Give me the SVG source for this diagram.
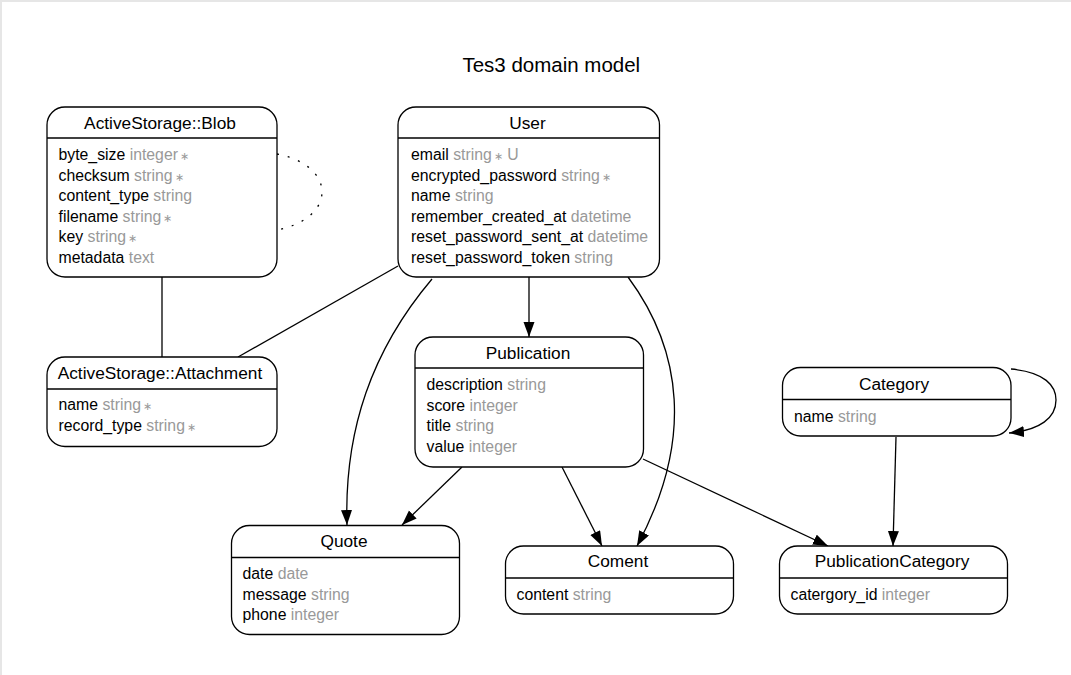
<svg xmlns="http://www.w3.org/2000/svg" width="1071" height="675" viewBox="0 0 1071 675">
<defs>
<style>
.box{fill:#fff;stroke:#000;stroke-width:1.3}
.sep{stroke:#000;stroke-width:1.3}
.hd{font-family:"Liberation Sans",Arial,sans-serif;font-size:17.3px;fill:#000;text-anchor:middle}
.at{font-family:"Liberation Sans",Arial,sans-serif;font-size:15.8px;fill:#000}
.ty{fill:#999}
.st{fill:#999;font-size:11px}
.ttl{font-family:"Liberation Sans",Arial,sans-serif;font-size:20.5px;fill:#000;text-anchor:middle}
.edge{fill:none;stroke:#000;stroke-width:1.3}
</style>
<marker id="arr" markerUnits="userSpaceOnUse" markerWidth="16" markerHeight="12" refX="15" refY="5.5" orient="auto">
<path d="M0,0 L15,5.5 L0,11 z" fill="#000"/>
</marker>
</defs>
<rect x="0" y="0" width="1071" height="675" fill="#fff"/>
<path d="M1,675 L1,1 L1071,1" fill="none" stroke="#e6e6e6" stroke-width="2"/>
<text class="ttl" x="551.3" y="72">Tes3 domain model</text>

<g id="connectors">
<path class="edge" d="M277,154 C300,158 322,172 322,192 C322,212 300,226 277,230" stroke-dasharray="2,9"/>
<path class="edge" d="M162,277 L162,357"/>
<path class="edge" d="M398,266 L238,357"/>
<path class="edge" d="M432,279 C372,350 344,430 347,525" marker-end="url(#arr)"/>
<path class="edge" d="M529,277 L529,337" marker-end="url(#arr)"/>
<path class="edge" d="M628,277 C682,350 694,440 637,546" marker-end="url(#arr)"/>
<path class="edge" d="M462,467 L402,525" marker-end="url(#arr)"/>
<path class="edge" d="M562,467 L602,546" marker-end="url(#arr)"/>
<path class="edge" d="M643,459 L828,546" marker-end="url(#arr)"/>
<path class="edge" d="M896,437 L893,546" marker-end="url(#arr)"/>
<path class="edge" d="M1011,369 C1045,372 1056,386 1056,400 C1056,418 1040,430 1009,433" marker-end="url(#arr)"/>
</g>

<g id="blob">
<rect class="box" x="47" y="107" width="230" height="170" rx="18"/>
<line class="sep" x1="47" y1="138" x2="277" y2="138"/>
<text class="hd" x="160" y="129">ActiveStorage::Blob</text>
<text class="at" x="58.5" y="160">byte_size <tspan class="ty">integer</tspan><tspan class="st" dx="2">∗</tspan></text>
<text class="at" x="58.5" y="180.5">checksum <tspan class="ty">string</tspan><tspan class="st" dx="2">∗</tspan></text>
<text class="at" x="58.5" y="201">content_type <tspan class="ty">string</tspan></text>
<text class="at" x="58.5" y="221.5">filename <tspan class="ty">string</tspan><tspan class="st" dx="2">∗</tspan></text>
<text class="at" x="58.5" y="242">key <tspan class="ty">string</tspan><tspan class="st" dx="2">∗</tspan></text>
<text class="at" x="58.5" y="262.5">metadata <tspan class="ty">text</tspan></text>
</g>

<g id="user">
<rect class="box" x="398" y="107" width="261.5" height="170" rx="18"/>
<line class="sep" x1="398" y1="138" x2="659.5" y2="138"/>
<text class="hd" x="527.5" y="129">User</text>
<text class="at" x="411" y="160">email <tspan class="ty">string</tspan><tspan class="st" dx="2">∗</tspan><tspan class="ty"> U</tspan></text>
<text class="at" x="411" y="180.5">encrypted_password <tspan class="ty">string</tspan><tspan class="st" dx="2">∗</tspan></text>
<text class="at" x="411" y="201">name <tspan class="ty">string</tspan></text>
<text class="at" x="411" y="221.5">remember_created_at <tspan class="ty">datetime</tspan></text>
<text class="at" x="411" y="242">reset_password_sent_at <tspan class="ty">datetime</tspan></text>
<text class="at" x="411" y="262.5">reset_password_token <tspan class="ty">string</tspan></text>
</g>

<g id="attachment">
<rect class="box" x="47" y="357" width="230" height="89.5" rx="18"/>
<line class="sep" x1="47" y1="389" x2="277" y2="389"/>
<text class="hd" x="160" y="378.5">ActiveStorage::Attachment</text>
<text class="at" x="58.5" y="410">name <tspan class="ty">string</tspan><tspan class="st" dx="2">∗</tspan></text>
<text class="at" x="58.5" y="431">record_type <tspan class="ty">string</tspan><tspan class="st" dx="2">∗</tspan></text>
</g>

<g id="publication">
<rect class="box" x="415" y="337" width="228.5" height="130" rx="18"/>
<line class="sep" x1="415" y1="368" x2="643.5" y2="368"/>
<text class="hd" x="528" y="358.5">Publication</text>
<text class="at" x="426.5" y="390">description <tspan class="ty">string</tspan></text>
<text class="at" x="426.5" y="410.5">score <tspan class="ty">integer</tspan></text>
<text class="at" x="426.5" y="431">title <tspan class="ty">string</tspan></text>
<text class="at" x="426.5" y="451.5">value <tspan class="ty">integer</tspan></text>
</g>

<g id="category">
<rect class="box" x="782.5" y="367.5" width="228.5" height="68.5" rx="18"/>
<line class="sep" x1="782.5" y1="399.5" x2="1011" y2="399.5"/>
<text class="hd" x="894" y="390">Category</text>
<text class="at" x="794" y="421.5">name <tspan class="ty">string</tspan></text>
</g>

<g id="quote">
<rect class="box" x="231.5" y="525.5" width="228" height="109" rx="18"/>
<line class="sep" x1="231.5" y1="557.5" x2="459.5" y2="557.5"/>
<text class="hd" x="344" y="546.5">Quote</text>
<text class="at" x="242.5" y="579">date <tspan class="ty">date</tspan></text>
<text class="at" x="242.5" y="599.5">message <tspan class="ty">string</tspan></text>
<text class="at" x="242.5" y="620">phone <tspan class="ty">integer</tspan></text>
</g>

<g id="coment">
<rect class="box" x="505.5" y="546" width="228" height="68" rx="18"/>
<line class="sep" x1="505.5" y1="578" x2="733.5" y2="578"/>
<text class="hd" x="618" y="567">Coment</text>
<text class="at" x="516.5" y="600">content <tspan class="ty">string</tspan></text>
</g>

<g id="publicationcategory">
<rect class="box" x="779.5" y="546" width="228" height="68" rx="18"/>
<line class="sep" x1="779.5" y1="578" x2="1007.5" y2="578"/>
<text class="hd" x="892" y="567">PublicationCategory</text>
<text class="at" x="790.5" y="600">catergory_id <tspan class="ty">integer</tspan></text>
</g>
</svg>
